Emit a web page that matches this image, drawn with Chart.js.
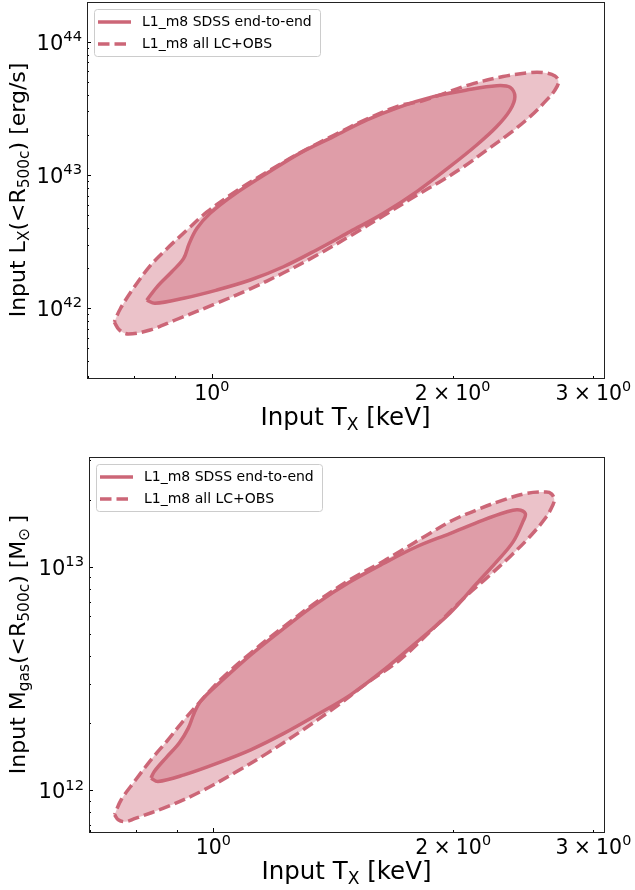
<!DOCTYPE html>
<html>
<head>
<meta charset="utf-8">
<script src="https://cdn.jsdelivr.net/npm/chart.js@4.4.1/dist/chart.umd.min.js"></script>
<style>
  html, body { margin: 0; padding: 0; background: #fff; }
  #wrap { position: relative; width: 635px; height: 890px; }
  .panel { position: absolute; left: 0; width: 635px; }
</style>
</head>
<body>
<div id="wrap">
  <div class="panel" style="top:0;height:440px"><canvas id="lxChart" width="635" height="440"></canvas></div>
  <div class="panel" style="top:440px;height:450px"><canvas id="mgChart" width="635" height="450"></canvas></div>
</div>
<script>
// contour vertices, T in keV
const lxInnerT = [0.829, 0.849, 0.922, 1.014, 1.117, 1.229, 1.352, 1.489, 1.639, 1.804, 1.986, 2.144, 2.27, 2.36, 2.393, 2.36, 2.27, 2.083, 1.892, 1.719, 1.563, 1.419, 1.289, 1.172, 1.064, 0.995, 0.958, 0.937, 0.922, 0.891, 0.854];
const lxInnerL = [1.15e42, 1.09e42, 1.19e42, 1.37e42, 1.63e42, 2.05e42, 2.74e42, 3.76e42, 5.16e42, 7.5e42, 1.16e43, 1.68e43, 2.3e43, 3.07e43, 3.87e43, 4.55e43, 4.68e43, 4.34e43, 3.87e43, 3.25e43, 2.59e43, 1.94e43, 1.46e43, 1.03e43, 7.08e42, 5.16e42, 3.98e42, 3.07e42, 2.37e42, 1.88e42, 1.45e42];
const lxOuterT = [0.755, 0.766, 0.786, 0.837, 0.9, 1.014, 1.117, 1.228, 1.354, 1.489, 1.637, 1.806, 1.929, 2.063, 2.207, 2.36, 2.5, 2.623, 2.686, 2.713, 2.686, 2.595, 2.5, 2.313, 2.103, 1.91, 1.822, 1.719, 1.562, 1.419, 1.289, 1.171, 1.064, 0.986, 0.931, 0.878, 0.837, 0.797, 0.768];
const lxOuterL = [7.89e41, 6.88e41, 6.42e41, 6.88e41, 8.17e41, 1.09e42, 1.4e42, 1.84e42, 2.51e42, 3.49e42, 4.93e42, 7.08e42, 8.91e42, 1.15e43, 1.54e43, 2.06e43, 2.74e43, 3.66e43, 4.34e43, 4.99e43, 5.53e43, 5.87e43, 5.87e43, 5.48e43, 4.77e43, 3.91e43, 3.56e43, 3.32e43, 2.63e43, 1.98e43, 1.47e43, 1.05e43, 7.33e42, 5.28e42, 3.87e42, 2.79e42, 2.08e42, 1.4e42, 9.88e41];

const mgInnerT = [0.835, 0.852, 0.919, 1.012, 1.114, 1.226, 1.349, 1.485, 1.635, 1.799, 1.981, 2.139, 2.265, 2.377, 2.446, 2.464, 2.41, 2.332, 2.181, 1.981, 1.799, 1.635, 1.485, 1.349, 1.226, 1.114, 1.022, 0.965, 0.946, 0.93, 0.906, 0.872, 0.843];
const mgInnerM = [1.136e12, 1.097e12, 1.175e12, 1.326e12, 1.52e12, 1.8e12, 2.18e12, 2.67e12, 3.45e12, 4.6e12, 6.2e12, 8.4e12, 1.05e13, 1.29e13, 1.59e13, 1.73e13, 1.8e13, 1.76e13, 1.62e13, 1.41e13, 1.23e13, 1.035e13, 8.57e12, 6.87e12, 5.31e12, 4.04e12, 3.07e12, 2.52e12, 2.22e12, 1.9e12, 1.63e12, 1.4e12, 1.216e12];
const mgOuterT = [0.7516, 0.7596, 0.775, 0.796, 0.877, 0.9646, 1.062, 1.169, 1.286, 1.416, 1.559, 1.716, 1.888, 2.059, 2.202, 2.355, 2.494, 2.617, 2.667, 2.679, 2.657, 2.617, 2.471, 2.31, 2.16, 2.0, 1.853, 1.716, 1.635, 1.485, 1.349, 1.226, 1.114, 1.022, 0.959, 0.919, 0.877, 0.835, 0.796, 0.766];
const mgOuterM = [7.79e11, 7.4e11, 7.25e11, 7.48e11, 8.48e11, 9.9e11, 1.196e12, 1.469e12, 1.834e12, 2.33e12, 3.02e12, 3.85e12, 5.3e12, 7.2e12, 8.9e12, 1.108e13, 1.36e13, 1.67e13, 1.886e13, 2.0e13, 2.12e13, 2.16e13, 2.13e13, 1.99e13, 1.82e13, 1.62e13, 1.385e13, 1.175e13, 1.06e13, 8.77e12, 6.99e12, 5.41e12, 4.12e12, 3.14e12, 2.46e12, 2.07e12, 1.684e12, 1.371e12, 1.097e12, 9.09e11];

const seriesLabels = ['L1_m8 SDSS end-to-end', 'L1_m8 all LC+OBS'];

// axis limits and labelled ticks (mantissa, exponent)
const tRange = [0.698, 3.093];
const lxRange = [3.0e41, 1.986e44];
const mgRange = [6.52e11, 3.1e13];
const tTickVals = [1, 2, 3];
const tTickLabels = [['10', '0'], ['2\u2005×\u200510', '0'], ['3\u2005×\u200510', '0']];
const lxTickVals = [1e42, 1e43, 1e44];
const lxTickLabels = [['10', '42'], ['10', '43'], ['10', '44']];
const mgTickVals = [1e12, 1e13];
const mgTickLabels = [['10', '12'], ['10', '13']];

const ROSE = '#cc6677';
const ROSE_FILL = 'rgba(204, 102, 119, 0.4)';
const FONT = '"DejaVu Sans", sans-serif';

function loop(xs, ys) {
  const pts = xs.map((x, i) => ({ x: x, y: ys[i] }));
  pts.push(pts[0]);
  return pts;
}

// draws a string made of parts [text, level]; level -1 = subscript, 1 = superscript
function drawRich(ctx, parts, x0, y, size, align) {
  let w = 0;
  const segs = parts.map(([t, lvl]) => {
    const fs = lvl ? size * 0.7 : size;
    ctx.font = fs + 'px ' + FONT;
    const sw = ctx.measureText(t).width;
    w += sw;
    return { t, fs, dy: lvl < 0 ? size * 0.22 : (lvl > 0 ? -size * 0.42 : 0), sw };
  });
  let x = align === 'right' ? x0 - w : x0 - w / 2;
  ctx.textAlign = 'left';
  ctx.textBaseline = 'alphabetic';
  ctx.fillStyle = '#000';
  for (const s of segs) {
    ctx.font = s.fs + 'px ' + FONT;
    ctx.fillText(s.t, x, y + s.dy);
    x += s.sw;
  }
}

const decorPlugin = {
  id: 'decor',
  afterDraw(chart, args, opts) {
    const ctx = chart.ctx;
    const a = chart.chartArea;
    const xs = chart.scales.x, ys = chart.scales.y;
    ctx.save();

    // inward log ticks
    ctx.strokeStyle = '#000';
    ctx.lineWidth = 1;
    const logTicks = (lo, hi) => {
      const out = [];
      for (let e = Math.floor(Math.log10(lo)); e <= Math.ceil(Math.log10(hi)); e++) {
        for (let k = 1; k < 10; k++) {
          const v = k * Math.pow(10, e);
          if (v >= lo && v <= hi) out.push({ v, major: k === 1 });
        }
      }
      return out;
    };
    ctx.beginPath();
    for (const t of logTicks(xs.min, xs.max)) {
      const px = Math.round(xs.getPixelForValue(t.v)) + 0.5;
      const len = t.major ? 4 : 2;
      ctx.moveTo(px, a.bottom); ctx.lineTo(px, a.bottom - len);
    }
    for (const t of logTicks(ys.min, ys.max)) {
      const py = Math.round(ys.getPixelForValue(t.v)) + 0.5;
      const len = t.major ? 4 : 2;
      ctx.moveTo(a.left, py); ctx.lineTo(a.left + len, py);
    }
    ctx.stroke();

    // frame
    ctx.strokeStyle = '#222';
    ctx.strokeRect(Math.round(a.left) + 0.5, Math.round(a.top) + 0.5, Math.round(a.right - a.left), Math.round(a.bottom - a.top));

    // tick labels with superscript exponents
    opts.xVals.forEach((v, i) => {
      const [m, e] = opts.xLabels[i];
      drawRich(ctx, [[m, 0], [e, 1]], xs.getPixelForValue(v), a.bottom + 22, 20.5, 'center');
    });
    opts.yVals.forEach((v, i) => {
      const [m, e] = opts.yLabels[i];
      drawRich(ctx, [[m, 0], [e, 1]], a.left - 5, ys.getPixelForValue(v) + 8, 21, 'right');
    });

    // axis titles
    drawRich(ctx, opts.xTitle, (a.left + a.right) / 2, a.bottom + 46.5, 24.5, 'center');
    ctx.save();
    ctx.translate(24.5, (a.top + a.bottom) / 2);
    ctx.rotate(-Math.PI / 2);
    drawRich(ctx, opts.yTitle, 0, 0, 22, 'center');
    ctx.restore();

    // legend
    const bx = a.left + 7, by = a.top + 7, bw = 226, bh = 47;
    ctx.fillStyle = 'rgba(255,255,255,0.8)';
    ctx.strokeStyle = '#cccccc';
    ctx.lineWidth = 1;
    ctx.beginPath();
    ctx.roundRect(bx + 0.5, by + 0.5, bw, bh, 3);
    ctx.fill();
    ctx.stroke();
    chart.data.datasets.forEach((ds, i) => {
      const ly = by + 13 + i * 22;
      ctx.strokeStyle = ds.borderColor;
      ctx.lineWidth = 3.5;
      ctx.setLineDash(ds.borderDash || []);
      ctx.beginPath();
      ctx.moveTo(bx + 4, ly);
      ctx.lineTo(bx + 37, ly);
      ctx.stroke();
      ctx.setLineDash([]);
      ctx.fillStyle = '#000';
      ctx.font = '14px ' + FONT;
      ctx.textAlign = 'left';
      ctx.textBaseline = 'middle';
      ctx.fillText(ds.label, bx + 48, ly);
    });
    ctx.restore();
  }
};

function makeChart(id, inner, outer, yRange, yVals, yLabels, pad, yWidth, xHeight, xTitle, yTitle) {
  return new Chart(document.getElementById(id), {
    type: 'scatter',
    data: {
      datasets: [
        { label: seriesLabels[0], data: inner, showLine: true, fill: 'shape',
          borderColor: ROSE, backgroundColor: ROSE_FILL, borderWidth: 3.5, pointRadius: 0, tension: 0.35 },
        { label: seriesLabels[1], data: outer, showLine: true, fill: 'shape', borderDash: [11.5, 5],
          borderColor: ROSE, backgroundColor: ROSE_FILL, borderWidth: 3.5, pointRadius: 0, tension: 0.35 }
      ]
    },
    options: {
      responsive: false,
      animation: false,
      devicePixelRatio: 1,
      events: [],
      layout: { padding: pad },
      plugins: { legend: { display: false }, tooltip: { enabled: false },
        decor: { xTitle, yTitle, xVals: tTickVals, xLabels: tTickLabels, yVals, yLabels } },
      scales: {
        x: {
          type: 'logarithmic', min: tRange[0], max: tRange[1],
          grid: { display: false, drawTicks: false }, border: { display: false },
          ticks: { display: false },
          afterFit(s) { s.height = xHeight; s.paddingLeft = 0; s.paddingRight = 0; }
        },
        y: {
          type: 'logarithmic', min: yRange[0], max: yRange[1],
          grid: { display: false, drawTicks: false }, border: { display: false },
          ticks: { display: false },
          afterFit(s) { s.width = yWidth; s.paddingTop = 0; s.paddingBottom = 0; }
        }
      }
    },
    plugins: [decorPlugin]
  });
}

makeChart('lxChart', loop(lxInnerT, lxInnerL), loop(lxOuterT, lxOuterL), lxRange, lxTickVals, lxTickLabels,
  { left: 0, right: 31, top: 2, bottom: 0 }, 87, 62,
  [['Input T', 0], ['X', -1], [' [keV]', 0]],
  [['Input L', 0], ['X', -1], ['(<R', 0], ['500c', -1], [') [erg/s]', 0]]);

makeChart('mgChart', loop(mgInnerT, mgInnerM), loop(mgOuterT, mgOuterM), mgRange, mgTickVals, mgTickLabels,
  { left: 0, right: 31, top: 17, bottom: 0 }, 89, 58,
  [['Input T', 0], ['X', -1], [' [keV]', 0]],
  [['Input M', 0], ['gas', -1], ['(<R', 0], ['500c', -1], [') [M', 0], ['⊙', -1], ['\u2009]', 0]]);
</script>
</body>
</html>
